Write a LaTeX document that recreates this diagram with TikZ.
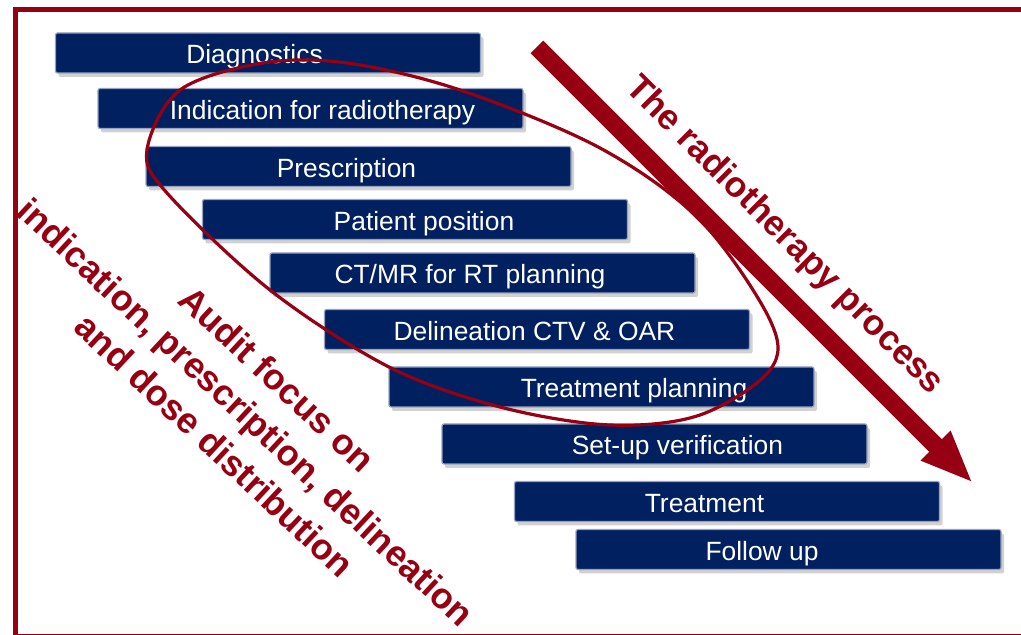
\documentclass[tikz,border=0pt]{standalone}
\usepackage{fontspec}
\setmainfont{Liberation Sans}
\usetikzlibrary{arrows.meta,shadows}

\definecolor{navy}{RGB}{0,32,96}
\definecolor{rtred}{RGB}{150,0,18}
\definecolor{boxedge}{RGB}{150,162,192}

\tikzset{
  stage/.style={draw=boxedge, line width=1.2pt, fill=navy, rounded corners=2pt,
    minimum width=425pt, minimum height=40pt, inner sep=0pt, text=white,
    text height=23pt, text depth=1pt,
    font=\fontsize{26.4}{30}\selectfont,
    drop shadow={shadow xshift=3pt, shadow yshift=-4pt, opacity=0.3, fill=black!60}},
  slanted/.style={text=rtred, rotate=-45, inner sep=0pt}
}

\begin{document}
\begin{tikzpicture}[x=1pt,y=1pt]
	\path[use as bounding box] (0,0) rectangle (1021,635);
	\clip (0,0) rectangle (1021,635);
	
	% outer frame, right side runs off the page
	\draw[rtred, line width=4.5pt] (15.5,-1) rectangle (1040,625.5);
	
	% the steps of the process (labels sit a bit off centre)
	\node[stage] (diag) at (268,582) {Diagnostics\hspace*{27pt}};
	\node[stage] (indic) at (310.5,526.5) {\hspace*{24pt}Indication for radiotherapy};
	\node[stage] (presc) at (358.5,468.5) {Prescription\hspace*{24pt}};
	\node[stage] (posit) at (415,415.5) {\hspace*{18pt}Patient position};
	\node[stage] (ctmr) at (482.5,362) {CT/MR for RT planning\hspace*{25pt}};
	\node[stage] (delin) at (537,305.5) {Delineation CTV \& OAR\hspace*{5pt}};
	\node[stage] (plan) at (601.5,248) {\hspace*{65pt}Treatment planning};
	\node[stage] (setup) at (654.5,191) {\hspace*{46pt}Set-up verification};
	\node[stage] (treat) at (727,133.5) {Treatment\hspace*{45pt}};
	\node[stage] (follow) at (788.5,85.5) {Follow up\hspace*{53pt}};
	
	% big arrow down the stairs
	\coordinate (flowtop) at (537,588);
	\coordinate (flowtip) at (973,152);
	\draw[rtred, line width=18pt, -{Triangle[length=53pt,width=38pt]}] (flowtop) -- (flowtip);
	
	% hand drawn ring round the audited steps
	\draw[rtred, line width=3.2pt] plot[smooth cycle, tension=0.55] coordinates {
		(147,485) (180,545) (263,572) (347,572) (460,545) (600,487) (700,415)
		(770,315) (770,265) (700,220) (610,210) (500,228) (389,268) (270,345) (167,442)};
	
	\node[slanted, font=\bfseries\fontsize{35.5}{42}\selectfont] (process) at (784,399)
		{The radiotherapy process};
	\node[slanted, rotate=2, align=center, font=\bfseries\fontsize{36}{45.5}\selectfont] (audit) at (246,223)
		{Audit focus on\\indication, prescription, delineation\\and dose distribution};
\end{tikzpicture}
\end{document}
